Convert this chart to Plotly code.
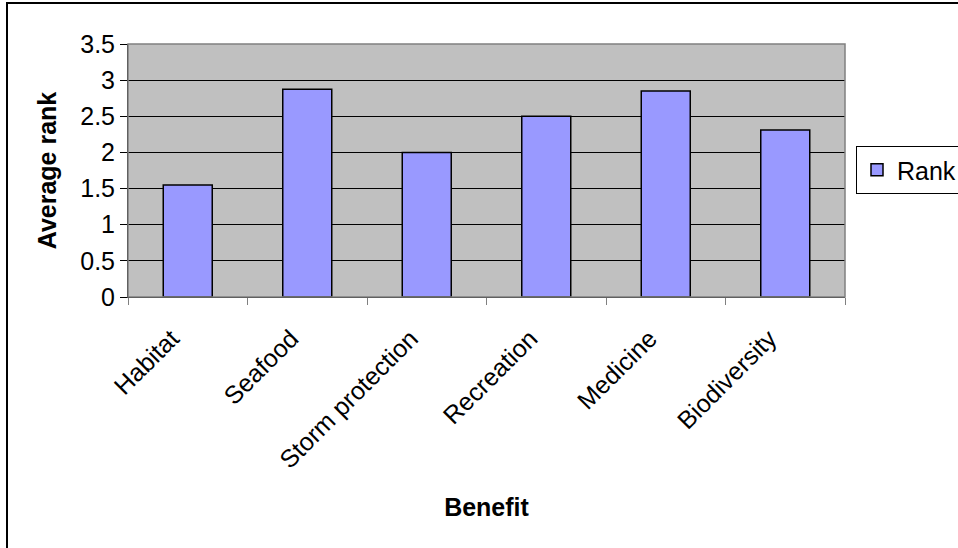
import plotly.graph_objects as go

categories = ["Habitat", "Seafood", "Storm protection", "Recreation", "Medicine", "Biodiversity"]
rank_values = [1.55, 2.875, 2.0, 2.5, 2.85, 2.31]
y_ticks = [0, 0.5, 1, 1.5, 2, 2.5, 3, 3.5]
y_tick_labels = ["0", "0.5", "1", "1.5", "2", "2.5", "3", "3.5"]

W, H = 958, 548
L, R, T, B = 128, 845, 44, 297

FONT = "Liberation Sans, Arial, sans-serif"
FS = 25

fig = go.Figure()
fig.add_trace(go.Bar(
    x=categories, y=rank_values, name="Rank",
    marker=dict(color="#9999FF", line=dict(color="black", width=1.5)),
    width=0.41,
))

pw = R - L
ph = B - T

fig.update_layout(
    width=W, height=H,
    margin=dict(l=L, r=W - R, t=T, b=H - B, pad=0, autoexpand=False),
    paper_bgcolor="white",
    plot_bgcolor="#C0C0C0",
    font=dict(family=FONT, size=FS, color="black"),
    showlegend=True,
    legend=dict(
        x=(856 - L) / pw, y=(B - 170) / ph, xanchor="left", yanchor="middle",
        bordercolor="black", borderwidth=1, bgcolor="white",
        font=dict(family=FONT, size=FS, color="black"),
        itemwidth=30, tracegroupgap=0,
    ),
    xaxis=dict(
        showgrid=False, tickangle=-45,
        ticks="outside", ticklen=7, tickcolor="#808080", tickson="boundaries",
        showline=True, linecolor="black", linewidth=1,
        tickfont=dict(family=FONT, size=FS),
        ticklabelstandoff=16, ticklabelshift=-16,
        title=dict(text="<b>Benefit</b>", font=dict(family=FONT, size=FS), standoff=25),
        automargin=False,
    ),
    yaxis=dict(
        range=[0, 3.5], tickvals=y_ticks, ticktext=y_tick_labels,
        showgrid=True, gridcolor="black", gridwidth=1,
        ticks="outside", ticklen=7, tickcolor="black",
        showline=True, linecolor="black", linewidth=1,
        tickfont=dict(family=FONT, size=FS),
        title=dict(text="<b>Average rank</b>", font=dict(family=FONT, size=FS), standoff=16),
        zeroline=False, automargin=False,
    ),
    bargap=0.59,
)

# gray plot area border (top/right)
fig.add_shape(type="rect", xref="paper", yref="paper", x0=0, y0=0, x1=1, y1=1,
              line=dict(color="#808080", width=1.5), fillcolor="rgba(0,0,0,0)", layer="above")

# outer chart border (extends past the bottom/right edges)
fig.add_shape(type="rect", xref="paper", yref="paper",
              x0=(7 - L) / pw, x1=(W + 20 - L) / pw,
              y0=(B - (H + 20)) / ph, y1=(B - 3) / ph,
              line=dict(color="black", width=2), fillcolor="rgba(0,0,0,0)", layer="above")

fig.write_html("out.html")
